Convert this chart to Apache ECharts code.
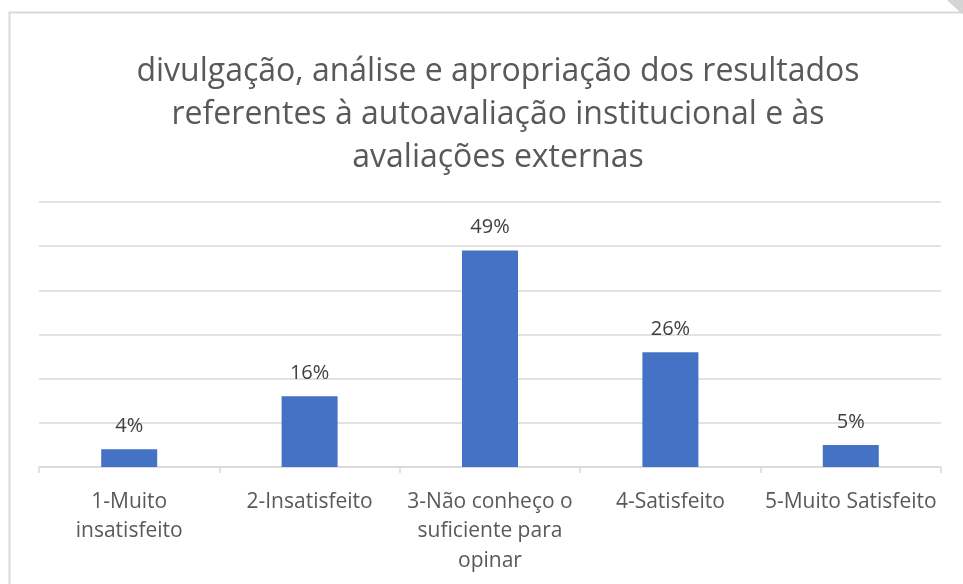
<!DOCTYPE html>
<html>
<head>
<meta charset="utf-8">
<title>divulgação</title>
<script src="https://cdn.jsdelivr.net/npm/echarts@6/dist/echarts.min.js"></script>
<style>
  html, body { margin: 0; padding: 0; background: #fff; }
  #main { width: 963px; height: 584px; }
</style>
</head>
<body>
<div id="main"></div>
<script>
var categorias = ['1-Muito\ninsatisfeito', '2-Insatisfeito', '3-Não conheço o\nsuficiente para\nopinar', '4-Satisfeito', '5-Muito Satisfeito'];
var percentuais = [4, 16, 49, 26, 5];
var titulo = 'divulgação, análise e apropriação dos resultados\nreferentes à autoavaliação institucional e às\navaliações externas';

var fonte = 'Open Sans';
var chart = echarts.init(document.getElementById('main'));

var option = {
  backgroundColor: '#fff',
  animation: false,
  graphic: [
    {
      type: 'rect',
      shape: { x: 9.5, y: 12.5, width: 1000, height: 600 },
      style: { fill: 'none', stroke: '#d9d9d9', lineWidth: 2 },
      silent: true
    },
    {
      type: 'polygon',
      shape: { points: [[947, 0], [963, 0], [963, 14], [960, 12]] },
      style: { fill: '#d4d4d4' },
      silent: true
    },
    // titulo em tres linhas, centrado no quadro
    {
      type: 'text',
      x: 498,
      y: 50,
      silent: true,
      style: {
        text: titulo,
        fontFamily: fonte,
        fontSize: 32,
        lineHeight: 43,
        fill: '#595959',
        align: 'center',
        verticalAlign: 'top'
      }
    }
  ],
  grid: { left: 39, right: 22, top: 202, bottom: 117 },
  xAxis: {
    type: 'category',
    data: categorias,
    axisLine: { lineStyle: { color: '#d9d9d9', width: 1.5 } },
    axisTick: { show: true, length: 6, lineStyle: { color: '#d9d9d9', width: 1.5 } },
    axisLabel: {
      interval: 0,
      margin: 20,
      fontFamily: fonte,
      fontSize: 21,
      lineHeight: 29.5,
      color: '#595959'
    }
  },
  yAxis: {
    type: 'value',
    min: 0,
    max: 60,
    interval: 10,
    axisLine: { show: false },
    axisTick: { show: false },
    axisLabel: { show: false },
    splitLine: { lineStyle: { color: '#d9d9d9', width: 1.5 } }
  },
  series: [{
    type: 'bar',
    data: percentuais,
    barWidth: 56,
    itemStyle: { color: '#4472C4' },
    label: {
      show: true,
      position: 'top',
      distance: 13,
      formatter: '{c}%',
      fontFamily: fonte,
      fontSize: 20,
      color: '#404040'
    }
  }]
};

chart.setOption(option);
</script>
</body>
</html>
